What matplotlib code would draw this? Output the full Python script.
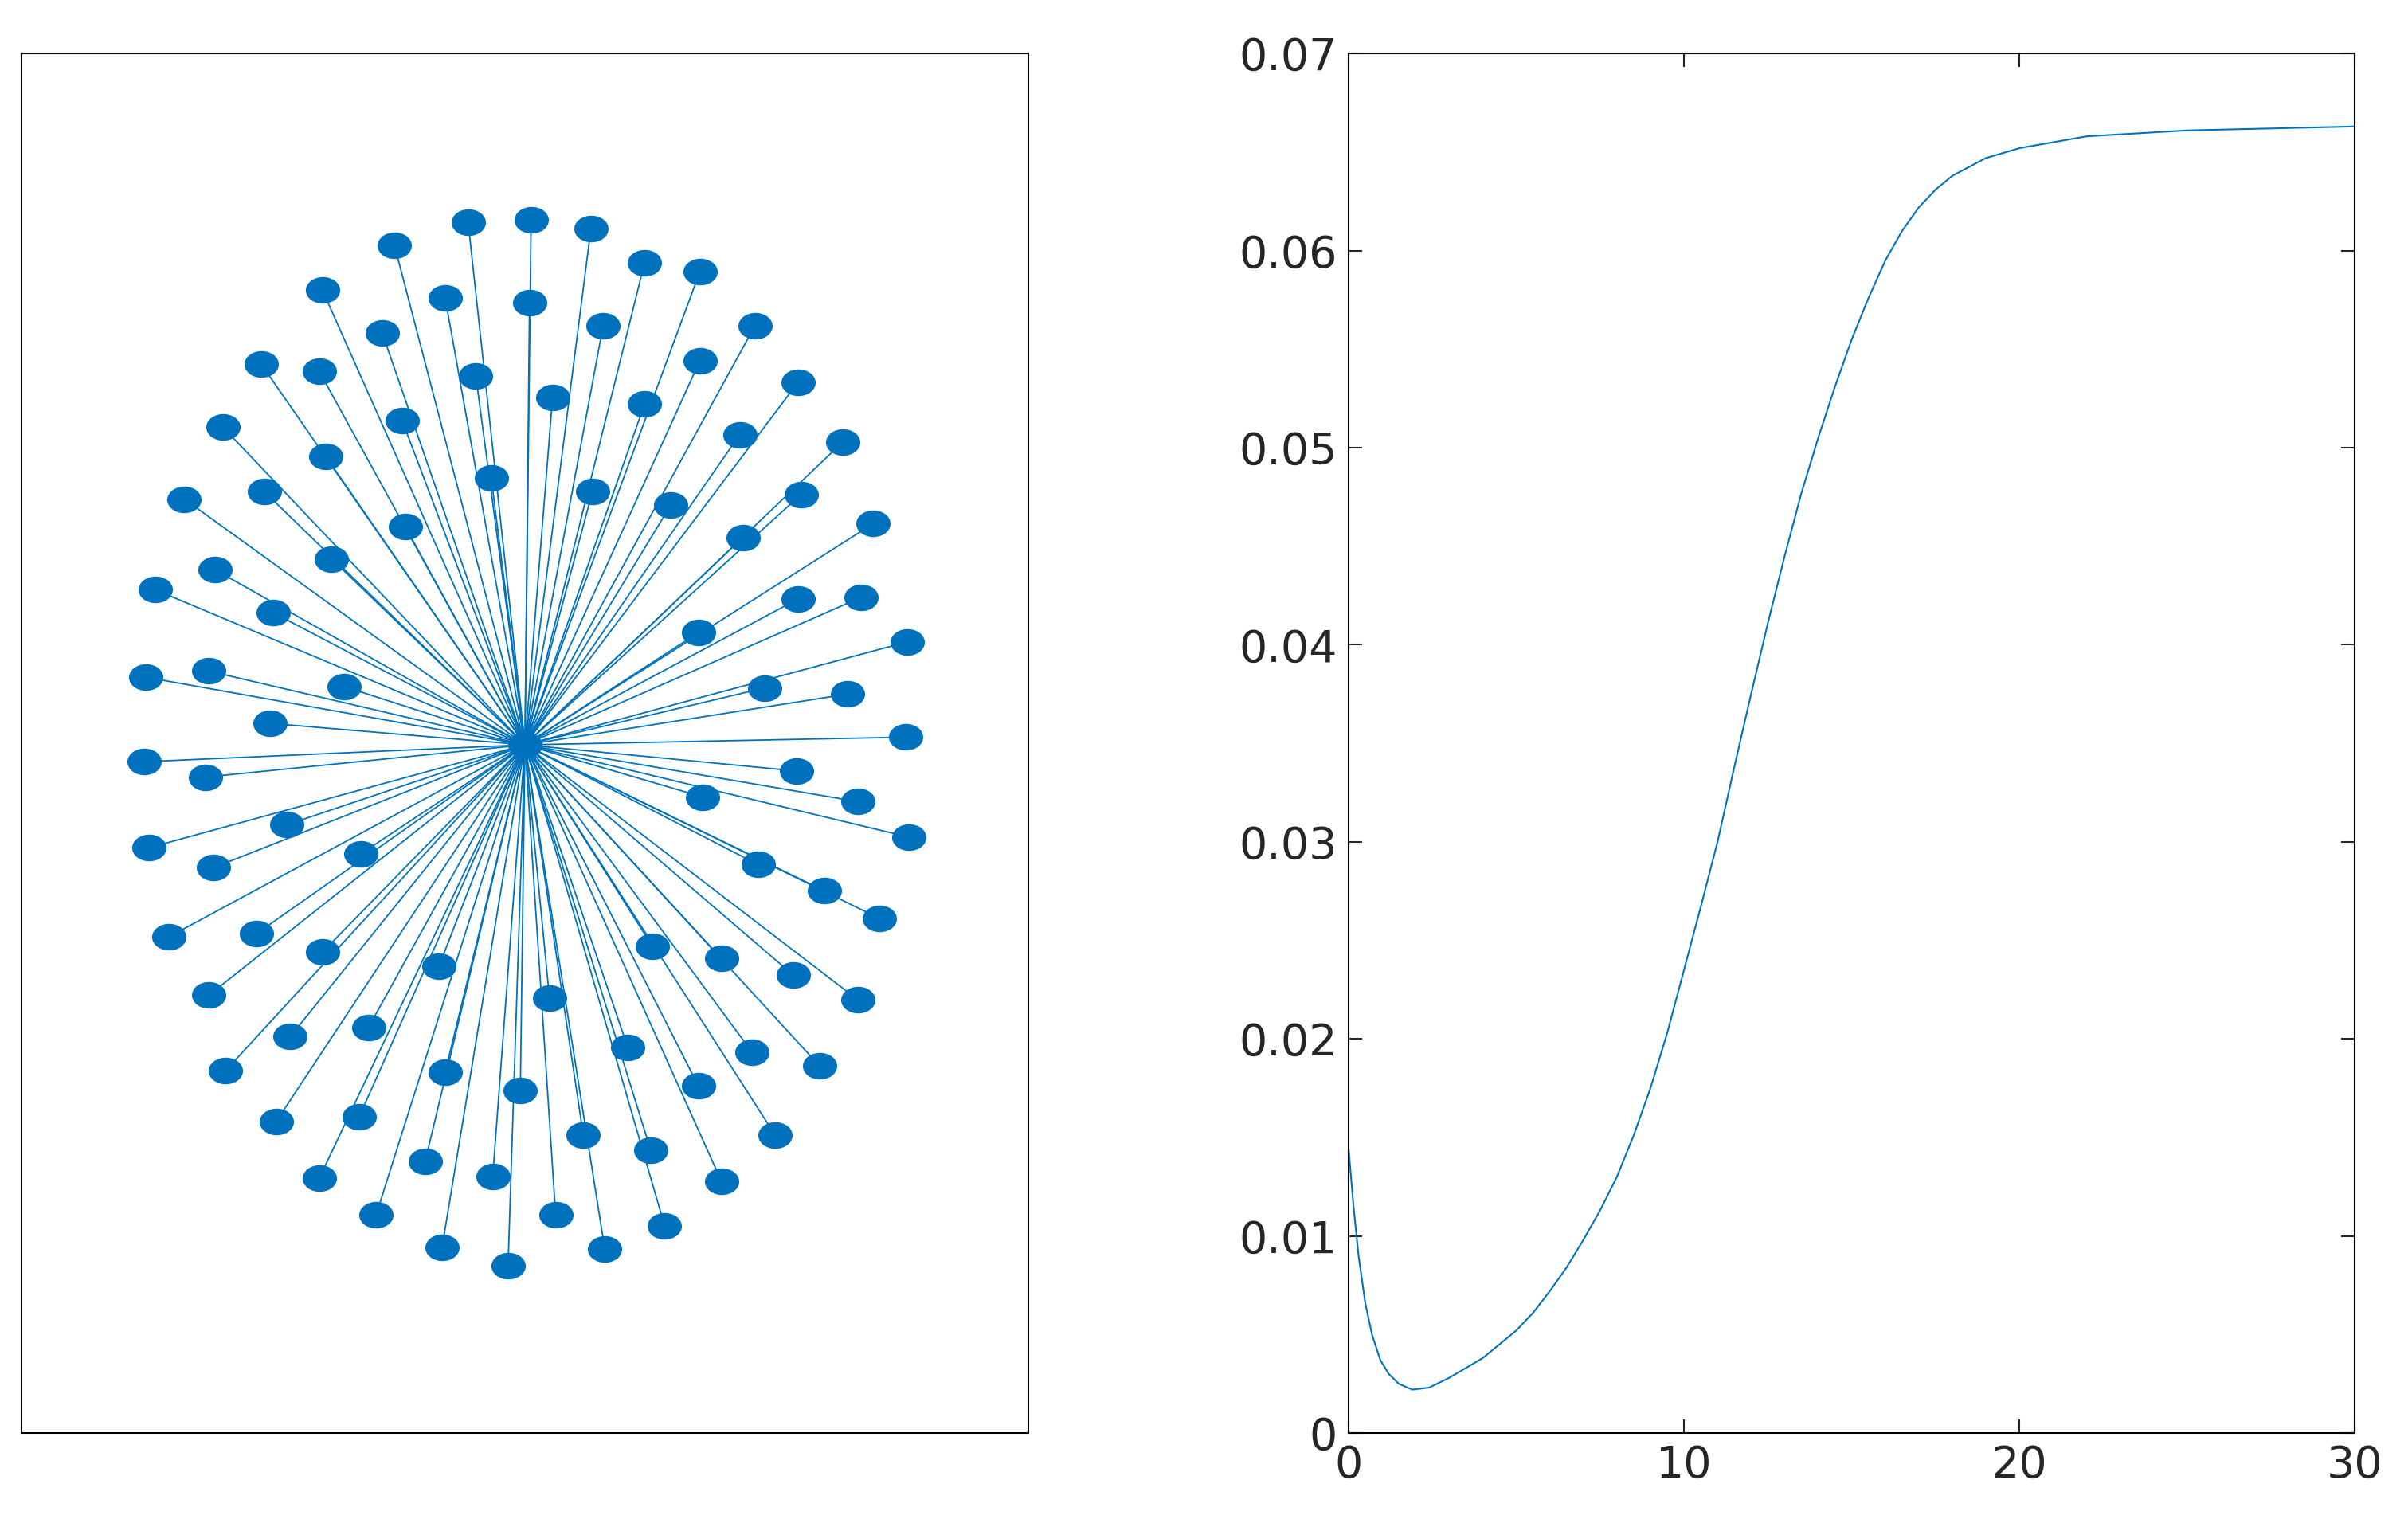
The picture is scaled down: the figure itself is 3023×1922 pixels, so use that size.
import numpy as np
import matplotlib
matplotlib.use("Agg")
import matplotlib.pyplot as plt
from matplotlib.path import Path

BLUE = "#0072BD"

# star graph: hub and leaf positions (picture coordinates, y downward)
hub = (342, 485)
leaf_x = [305, 346, 385, 257, 420, 456, 210, 290, 345, 393, 492, 249, 170, 208, 310,
          456, 520, 360, 420, 262, 145, 482, 549, 212, 320, 172, 386, 437, 522, 120,
          264, 484, 569, 216, 140, 101, 520, 561, 178, 455, 591, 136, 95, 224, 498,
          552, 176, 590, 94, 134, 519, 458, 559, 187, 97, 235, 139, 494, 592, 537,
          573, 110, 167, 210, 425, 470, 286, 517, 136, 358, 559, 189, 240, 490, 409,
          147, 290, 534, 339, 455, 180, 234, 380, 505, 424, 277, 208, 321, 470, 245,
          362, 433, 288, 394, 331]
leaf_y = [145, 143, 149, 160, 171, 177, 189, 194, 197, 212, 212, 217, 237, 242, 245,
          235, 249, 259, 263, 274, 278, 283, 288, 297, 311, 320, 320, 329, 322, 325,
          343, 350, 341, 364, 371, 384, 390, 389, 399, 412, 418, 437, 441, 447, 448,
          452, 471, 480, 496, 506, 502, 519, 522, 537, 552, 556, 565, 563, 545, 580,
          598, 610, 608, 620, 616, 624, 629, 635, 648, 650, 651, 675, 669, 685, 682,
          697, 698, 694, 710, 707, 730, 727, 739, 739, 749, 756, 767, 766, 769, 791,
          791, 798, 812, 813, 824]

# right curve
t = [0, 0.15, 0.3, 0.5, 0.7, 0.95, 1.2, 1.5, 1.9, 2.4, 3, 3.5, 4, 4.5, 5, 5.5, 6, 6.5,
     7, 7.5, 8, 8.5, 9, 9.5, 10, 10.5, 11, 11.5, 12, 12.5, 13, 13.5, 14, 14.5, 15,
     15.5, 16, 16.5, 17, 17.5, 18, 19, 20, 22, 25, 30]
v = [0.0145, 0.0115, 0.0090, 0.0066, 0.0050, 0.0037, 0.0030, 0.0025, 0.0022, 0.0023,
     0.0028, 0.0033, 0.0038, 0.0045, 0.0052, 0.0061, 0.0072, 0.0084, 0.0098, 0.0113,
     0.0130, 0.0151, 0.0175, 0.0203, 0.0235, 0.0267, 0.0300, 0.0338, 0.0375, 0.0411,
     0.0445, 0.0477, 0.0505, 0.0531, 0.0555, 0.0576, 0.0595, 0.0610, 0.0622, 0.0631,
     0.0638, 0.0647, 0.0652, 0.0658, 0.0661, 0.0663]

plt.rcParams['font.family'] = ['DejaVu Sans']

fig = plt.figure(figsize=(30.23, 19.22), dpi=100)

ax1 = fig.add_axes([0.009, 0.064, 0.418, 0.901])
for x, y in zip(leaf_x, leaf_y):
    ax1.plot([hub[0], x], [-hub[1], -y], color=BLUE, lw=1.3, zorder=1)
circ = Path.unit_circle()
ellipse = Path(circ.vertices * [1.3, 1.0], circ.codes)
ax1.plot(leaf_x, [-y for y in leaf_y], ls="none", marker=ellipse, ms=30,
         color=BLUE, zorder=2)
ax1.plot([hub[0]], [-hub[1]], ls="none", marker=ellipse, ms=30, color=BLUE)
ax1.set_xlim(14, 670)
ax1.set_ylim(-933, -35)
ax1.set_xticks([])
ax1.set_yticks([])
for s in ax1.spines.values():
    s.set_linewidth(1.5)

ax2 = fig.add_axes([0.56, 0.064, 0.418, 0.901])
ax2.plot(t, v, color=BLUE, lw=1.5)
ax2.set_xlim(0, 30)
ax2.set_ylim(0, 0.07)
ax2.set_xticks([0, 10, 20, 30])
ax2.set_xticklabels(["0", "10", "20", "30"])
ax2.set_yticks(np.arange(0, 0.071, 0.01))
ax2.set_yticklabels(["0", "0.01", "0.02", "0.03", "0.04", "0.05", "0.06", "0.07"])
ax2.tick_params(direction="in", top=True, right=True, length=12, width=1.5,
                labelsize=40, colors="#262626", labelcolor="#262626", pad=10)
for s in ax2.spines.values():
    s.set_linewidth(1.5)

fig.savefig("out.png", dpi=100)
